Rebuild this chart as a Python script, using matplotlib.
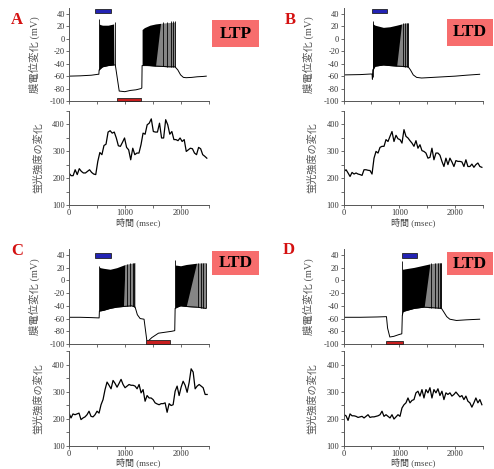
import numpy as np
import matplotlib
matplotlib.use('Agg')
from matplotlib import pyplot as plt
from matplotlib.patches import Rectangle

plt.rcParams['font.family'] = ['Liberation Serif', 'Noto Sans CJK JP']
plt.rcParams['axes.unicode_minus'] = False

W, H = 494, 469

# ---------------- membrane potential traces (ms, mV) ----------------
# slow potential, running through the spike troughs
A_VM_T = [0, 200, 400, 520, 535, 540, 600, 700, 800, 830, 860, 900, 1000, 1100, 1200, 1290, 1305,
          1310, 1400, 1600, 1800, 1900, 1950, 2000, 2050, 2100, 2200, 2300, 2400, 2460]
A_VM = [-60, -59.5, -58.5, -57, -57, -50, -45, -43, -42, -42, -60, -84, -85, -83, -82, -80, -79,
        -43, -43, -44, -45, -45, -50, -58, -62, -62.5, -62, -61, -60.5, -60]
# dense spike trains: time, peak envelope, trough envelope, end of the dense part
A_TR1_T = [540, 560, 600, 700, 800, 830]
A_TR1_TOP = [24, 23, 22, 22, 24, 26]
A_TR1_BOT = [-50, -48, -45, -43, -42, -42]
A_TR1_END = 815
A_TR2_T = [1310, 1350, 1450, 1550, 1640, 1750, 1900]
A_TR2_TOP = [15, 18, 22, 24, 25, 26, 27]
A_TR2_BOT = [-43, -42, -43, -44, -44, -45, -45]
A_TR2_END = 1640
# single visible spikes
A_SPK_T = [540, 828, 1680, 1752, 1824, 1872, 1900]
A_SPK_PEAK = [32, 27, 27, 27, 28, 28, 28]

B_VM_T = [0, 300, 500, 512, 518, 525, 565, 714, 830, 1000, 1160, 1200, 1250, 1310, 1400, 1600,
          1800, 2000, 2200, 2440]
B_VM = [-58, -57.5, -56.5, -57, -65, -50, -44, -42, -43, -44, -45, -50, -58, -62, -63, -62,
        -61, -60, -58.5, -57]
B_TR1_T = [520, 530, 565, 714, 830, 952, 1040, 1071, 1160]
B_TR1_TOP = [27, 24, 22, 18.5, 19.5, 22, 24, 25, 26]
B_TR1_BOT = [-52, -50, -44, -42, -43, -44, -44, -45, -45]
B_TR1_END = 1040
B_SPK_T = [520, 1060, 1100, 1143, 1160]
B_SPK_PEAK = [28, 25, 26, 26, 26]

C_VM_T = [0, 200, 400, 540, 545, 560, 620, 736, 855, 975, 1124, 1185, 1225, 1275, 1345, 1394,
          1412, 1483, 1603, 1842, 1895, 1902, 2000, 2100, 2285, 2452]
C_VM = [-58, -58, -58.5, -59, -48, -48, -47, -44, -42, -41, -40, -42, -54, -60, -61, -94,
        -96, -90, -83, -80, -79, -44, -40, -41, -42, -44]
C_TR1_T = [545, 560, 620, 736, 855, 975, 1005, 1124, 1185]
C_TR1_TOP = [21, 20, 19, 17.5, 20, 24, 25, 27, 28]
C_TR1_BOT = [-48, -48, -47, -44, -42, -41, -41, -40, -42]
C_TR1_END = 1005
C_TR2_T = [1902, 1920, 2000, 2100, 2285, 2452]
C_TR2_TOP = [24, 24, 23, 25, 27, 28]
C_TR2_BOT = [-44, -42, -40, -41, -42, -44]
C_TR2_END = 2285
C_SPK_T = [545, 1035, 1094, 1142, 1172, 1902, 2320, 2368, 2410, 2450]
C_SPK_PEAK = [22, 26, 27, 28, 28, 32, 27, 28, 27, 28]

D_VM_T = [0, 300, 600, 770, 790, 830, 900, 1000, 1045, 1054, 1070, 1266, 1445, 1600, 1756,
          1800, 1850, 1905, 2024, 2200, 2440]
D_VM = [-58, -58, -57.5, -57, -75, -89, -88, -85, -84, -55, -49, -44, -42, -43, -44,
        -50, -57, -61, -63, -62, -61]
D_TR1_T = [1054, 1070, 1090, 1266, 1445, 1548, 1626, 1756]
D_TR1_TOP = [18, 17.5, 18, 20.5, 24, 26, 27, 28]
D_TR1_BOT = [-50, -49, -48, -44, -42, -43, -43, -44]
D_TR1_END = 1548
D_SPK_T = [1054, 1577, 1637, 1696, 1738, 1756]
D_SPK_PEAK = [30, 27, 27, 28, 28, 28]

# stimulus bars: (start ms, end ms, low mV, high mV)
A_BLUE = (466, 747, 41, 47.5)
A_RED = (867, 1292, -100, -95)
B_BLUE = (518, 786, 41, 47.5)
C_BLUE = (466, 747, 35.3, 42.6)
C_RED = (1382, 1812, -100, -94)
D_BLUE = (1042, 1321, 35.3, 42.6)
D_RED = (762, 1071, -100, -95)

# ---------------- fluorescence traces ----------------
A_F_SPAN = (0, 2470)
A_F = [219, 209, 209, 231, 213, 235, 225, 219, 219, 225, 231, 221, 215, 213, 262, 295, 287, 321,
       326, 371, 376, 367, 371, 349, 320, 318, 333, 349, 314, 305, 268, 311, 287, 293, 293, 324,
       367, 363, 398, 404, 420, 373, 371, 371, 404, 349, 349, 417, 398, 363, 373, 343, 343, 339,
       349, 336, 343, 299, 305, 311, 309, 293, 287, 314, 309, 287, 281, 274]
B_F_SPAN = (10, 2480)
B_F = [225, 231, 219, 206, 221, 215, 219, 215, 213, 210, 231, 231, 229, 228, 215, 274, 299, 293,
       314, 318, 318, 343, 336, 355, 373, 336, 359, 346, 343, 330, 380, 355, 349, 339, 330, 318,
       339, 311, 324, 302, 299, 293, 274, 277, 311, 268, 293, 293, 285, 262, 243, 274, 250, 274,
       260, 243, 265, 262, 262, 260, 243, 268, 243, 243, 252, 240, 250, 256, 243, 240]
C_F_SPAN = (0, 2476)
C_F = [220, 202, 217, 214, 217, 220, 196, 202, 206, 214, 227, 208, 206, 214, 227, 220, 251, 270,
       307, 335, 323, 310, 341, 330, 316, 330, 345, 326, 314, 320, 326, 323, 323, 320, 310, 326,
       295, 307, 264, 285, 276, 276, 270, 258, 254, 251, 255, 255, 258, 223, 255, 248, 251, 301,
       320, 285, 316, 338, 323, 297, 333, 384, 372, 310, 320, 326, 320, 314, 289, 289]
D_F_SPAN = (10, 2480)
D_F = [214, 210, 193, 217, 210, 210, 208, 204, 206, 208, 202, 208, 214, 204, 206, 206, 208, 210,
       214, 227, 208, 214, 208, 202, 214, 198, 206, 214, 208, 239, 251, 258, 276, 258, 267, 270,
       295, 301, 283, 307, 276, 307, 295, 314, 276, 307, 295, 310, 285, 301, 270, 295, 289, 295,
       283, 289, 298, 289, 280, 285, 270, 283, 264, 258, 242, 258, 276, 258, 270, 251]

LETTERS = ['A', 'B', 'C', 'D']
OUTCOMES = ['LTP', 'LTD', 'LTD', 'LTD']

V_TICKS = [-100, -80, -60, -40, -20, 0, 20, 40]
F_TICKS = [100, 200, 300, 400]

SPINE = '#555555'
TEXT = '#333333'


def px_axes(fig, x0, x1, ytop, ybot):
    return fig.add_axes([x0 / W, 1 - ybot / H, (x1 - x0) / W, (ybot - ytop) / H])


def style(ax):
    for side in ['top', 'right']:
        ax.spines[side].set_visible(False)
    for side in ['left', 'bottom']:
        ax.spines[side].set_color(SPINE)
        ax.spines[side].set_linewidth(0.7)
    ax.tick_params(which='both', direction='out', length=2, width=0.6, color=SPINE,
                   labelsize=6, labelcolor=TEXT, pad=1)
    ax.set_xlim(0, 2500)


def draw_voltage(ax, vm_t, vm, trains, spk_t, spk_peak, blue, red):
    style(ax)
    ax.set_ylim(-100, 50)
    ax.plot(vm_t, vm, color='black', lw=0.7)
    for t, top, bot, dense_end in trains:
        t = np.asarray(t, dtype=float)
        ax.fill_between(t, bot, top, where=t <= dense_end, color='black', lw=0, interpolate=True)
        ax.fill_between(t, bot, top, where=t >= dense_end, color='#858585', lw=0, interpolate=True)
    bottoms = np.interp(spk_t, vm_t, vm)
    ax.vlines(spk_t, bottoms, spk_peak, color='black', lw=0.6)
    for bar, col in [(blue, '#2323b4'), (red, '#c81e1e')]:
        if bar is None:
            continue
        t0, t1, v0, v1 = bar
        ax.add_patch(Rectangle((t0, v0), t1 - t0, v1 - v0, facecolor=col, edgecolor='#222222',
                               lw=0.6, zorder=5, clip_on=False))
    ax.set_xticks(np.arange(0, 2501, 500))
    ax.set_xticklabels([])
    ax.set_yticks(V_TICKS)
    ax.set_yticklabels([str(v) for v in V_TICKS])
    ax.set_ylabel('膜電位変化 (mV)', fontsize=7.5, color='#555555')
    ax.yaxis.set_label_coords(-0.21, 0.5)


def draw_fluor(ax, span, vals):
    style(ax)
    ax.set_ylim(100, 450)
    t = np.linspace(span[0], span[1], len(vals))
    ax.plot(t, vals, color='black', lw=0.9)
    ax.set_xticks([0, 1000, 2000])
    ax.set_xticks([500, 1500, 2500], minor=True)
    ax.set_yticks(F_TICKS)
    ax.set_yticks([150, 250, 350, 450], minor=True)
    ax.set_ylabel('蛍光強度の変化', fontsize=7.3, color='#555555')
    ax.yaxis.set_label_coords(-0.19, 0.5)
    ax.set_xlabel('時間 (msec)', fontsize=6.5, color='#444444', labelpad=0)


def main():
    fig = plt.figure(figsize=(W / 100, H / 100), dpi=100)

    cols = [(69, 208.5), (343.5, 483)]
    top_rows = [(7.8, 101, 110.8, 205), (248.6, 344, 351, 445.5)]

    voltage = [
        (A_VM_T, A_VM, [(A_TR1_T, A_TR1_TOP, A_TR1_BOT, A_TR1_END),
                        (A_TR2_T, A_TR2_TOP, A_TR2_BOT, A_TR2_END)], A_SPK_T, A_SPK_PEAK, A_BLUE, A_RED),
        (B_VM_T, B_VM, [(B_TR1_T, B_TR1_TOP, B_TR1_BOT, B_TR1_END)], B_SPK_T, B_SPK_PEAK, B_BLUE, None),
        (C_VM_T, C_VM, [(C_TR1_T, C_TR1_TOP, C_TR1_BOT, C_TR1_END),
                        (C_TR2_T, C_TR2_TOP, C_TR2_BOT, C_TR2_END)], C_SPK_T, C_SPK_PEAK, C_BLUE, C_RED),
        (D_VM_T, D_VM, [(D_TR1_T, D_TR1_TOP, D_TR1_BOT, D_TR1_END)], D_SPK_T, D_SPK_PEAK, D_BLUE, D_RED),
    ]
    fluor = [(A_F_SPAN, A_F), (B_F_SPAN, B_F), (C_F_SPAN, C_F), (D_F_SPAN, D_F)]

    # letter centres and label boxes, in pixels
    letter_pos = [(17, 20.5), (290, 20.5), (17, 250.5), (289, 250)]
    box_pos = [(212, 20, 259, 47), (447, 19, 493, 46), (212, 251, 259, 275), (447, 252, 493, 275)]

    for i in range(4):
        x0, x1 = cols[i % 2]
        vt, vb, ft, fb = top_rows[i // 2]
        ax_v = px_axes(fig, x0, x1, vt, vb)
        draw_voltage(ax_v, *voltage[i])
        ax_f = px_axes(fig, x0, x1, ft, fb)
        draw_fluor(ax_f, *fluor[i])

        lx, ly = letter_pos[i]
        fig.text(lx / W, 1 - ly / H, LETTERS[i], color='#d41010', fontsize=12, fontweight='bold',
                 ha='center', va='center')
        bx0, by0, bx1, by1 = box_pos[i]
        fig.patches.append(Rectangle((bx0 / W, 1 - by1 / H), (bx1 - bx0) / W, (by1 - by0) / H,
                                     transform=fig.transFigure, facecolor='#f76d6d', lw=0))
        fig.text((bx0 + bx1) / 2 / W, 1 - (by0 + by1) / 2 / H, OUTCOMES[i], fontsize=12.5,
                 fontweight='bold', color='black', ha='center', va='center')

    fig.savefig('out.png', dpi=100)


if __name__ == '__main__':
    main()
